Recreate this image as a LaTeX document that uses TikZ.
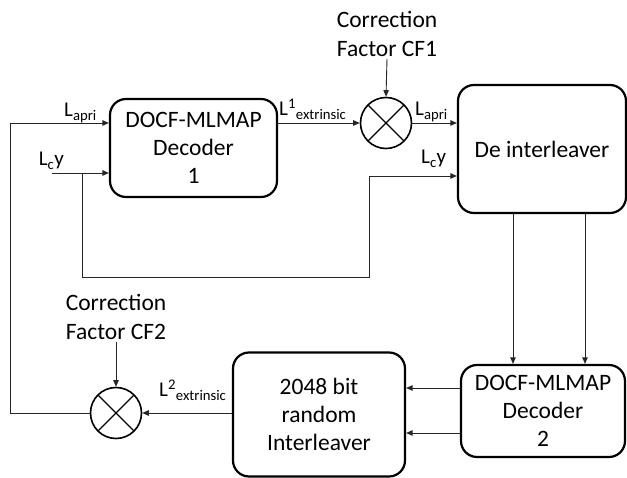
\documentclass[tikz,border=0pt]{standalone}
\usepackage{fontspec}
\setmainfont{Carlito}
\usetikzlibrary{arrows.meta}

\tikzset{
  block/.style={draw=black, line width=2.2pt, rounded corners=16pt, align=center,
    font=\fontsize{23.5}{28}\selectfont, inner sep=0pt},
  conn/.style={draw=black!85, line width=0.9pt},
  arr/.style={conn, -{Triangle[length=6.5pt,width=5.5pt]}},
  mult/.style={circle, draw=black, line width=1.6pt, minimum size=51pt, inner sep=0pt,
    path picture={
      \draw[line width=1.4pt] (path picture bounding box.south west) -- (path picture bounding box.north east)
        (path picture bounding box.north west) -- (path picture bounding box.south east);}},
  cftext/.style={align=center, font=\fontsize{23.5}{29}\selectfont, inner sep=0pt},
  sig/.style={font=\fontsize{21}{24}\selectfont, inner sep=0pt}
}

\begin{document}
\begin{tikzpicture}[x=1pt, y=-1pt]
\useasboundingbox (0,0) rectangle (627,478);

% processing blocks
\node[block, minimum width=167pt, minimum height=98pt] (dec1) at (193.5,148)
  {DOCF-MLMAP\\Decoder\\1};
\node[block, minimum width=168pt, minimum height=128pt] (deint) at (542,149)
  {De interleaver};
\node[block, minimum width=164pt, minimum height=92pt] (dec2) at (543,411)
  {DOCF-MLMAP\\Decoder\\2};
\node[block, minimum width=172pt, minimum height=124pt] (intl) at (319,414.5)
  {2048 bit\\random\\Interleaver};

% multipliers with their correction factors
\node[mult] (m1) at (386,123) {};
\node[mult] (m2) at (116,413) {};
\node[cftext] (cf1) at (387,34) {Correction\\Factor CF1};
\node[cftext] (cf2) at (116,317) {Correction\\Factor CF2};

% helper points for the routed connectors
\coordinate (lcyin) at (52,173);
\coordinate (split) at (82,173);
\coordinate (loopl) at (10,413);
\coordinate (loopt) at (10,123);
\coordinate (lowl) at (82,277);
\coordinate (lowr) at (369,277);
\coordinate (upr) at (369,176);

% connectors
\draw[arr] (cf1.south) ++(0,2) -- (m1.north);
\draw[arr] (cf2.south) ++(0,2) -- (m2.north);
\draw[arr] (dec1.east |- m1) -- (m1.west);
\draw[arr] (m1.east) -- (deint.west |- m1);
\draw[arr] (m2.west) -- (loopl) -- (loopt) -- (dec1.west |- loopt);
\draw[arr] (lcyin) -- (dec1.west |- lcyin);
\draw[arr] (split) -- (lowl) -- (lowr) -- (upr) -- (deint.west |- upr);
\draw[arr] (deint.south -| 513,0) -- (dec2.north -| 513,0);
\draw[arr] (deint.south -| 585,0) -- (dec2.north -| 585,0);
\draw[arr] (dec2.west |- 0,388) -- (intl.east |- 0,388);
\draw[arr] (dec2.west |- 0,433) -- (intl.east |- 0,433);
\draw[arr] (intl.west |- m2) -- (m2.east);

% signal labels
\node[sig, anchor=base east] (la1) at (97,117) {L\textsubscript{apri}};
\node[sig, anchor=base east] (lc1) at (64,166) {L\textsubscript{c}y};
\node[sig, anchor=base west] (le1) at (279,116) {L\textsuperscript{1}\textsubscript{extrinsic}};
\node[sig, anchor=base west] (la2) at (415,116) {L\textsubscript{apri}};
\node[sig, anchor=base west] (lc2) at (421,164) {L\textsubscript{c}y};
\node[sig, anchor=base west] (le2) at (159,397) {L\textsuperscript{2}\textsubscript{extrinsic}};
\end{tikzpicture}
\end{document}
